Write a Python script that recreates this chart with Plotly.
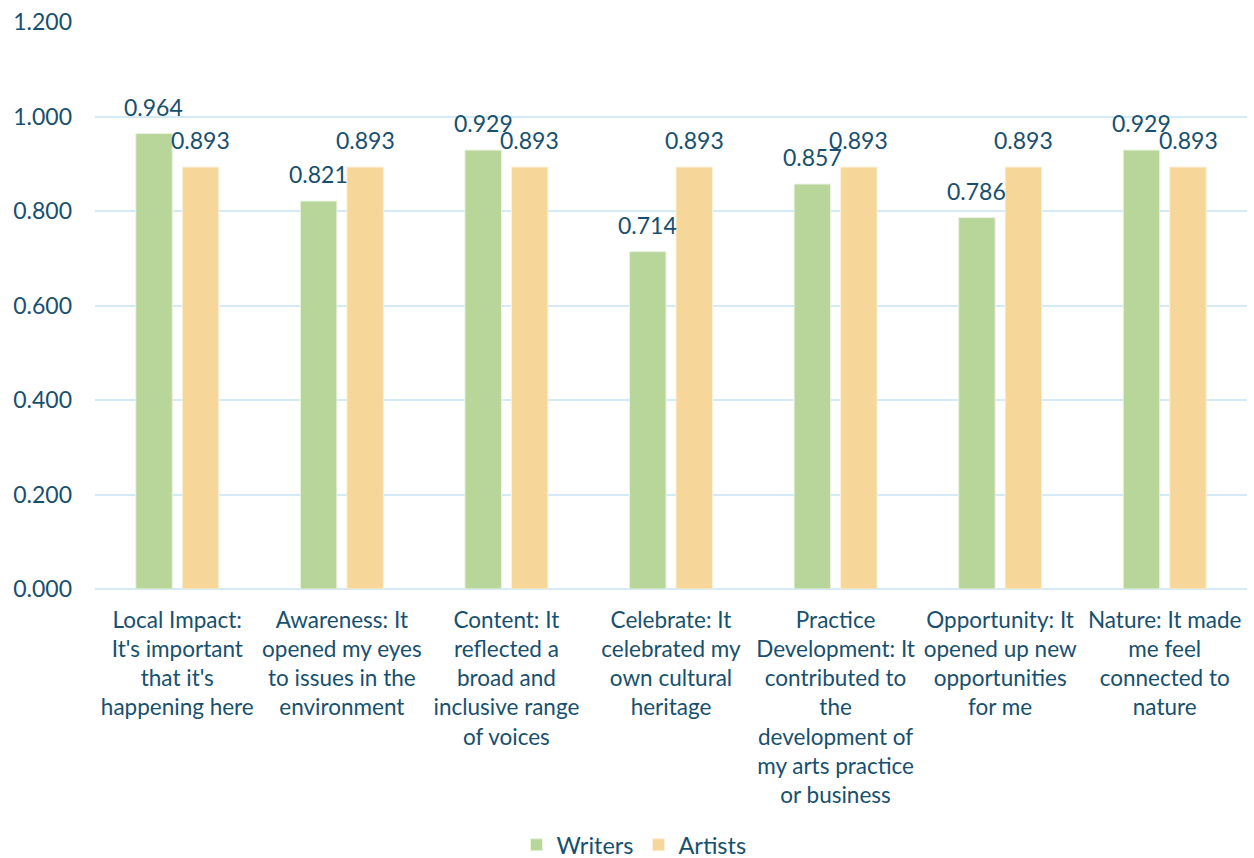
import plotly.graph_objects as go

categories = [
    "Local Impact:<br>It's important<br>that it's<br>happening here",
    "Awareness: It<br>opened my eyes<br>to issues in the<br>environment",
    "Content: It<br>reflected a<br>broad and<br>inclusive range<br>of voices",
    "Celebrate: It<br>celebrated my<br>own cultural<br>heritage",
    "Practice<br>Development: It<br>contributed to<br>the<br>development of<br>my arts practice<br>or business",
    "Opportunity: It<br>opened up new<br>opportunities<br>for me",
    "Nature: It made<br>me feel<br>connected to<br>nature",
]
writers = [0.964, 0.821, 0.929, 0.714, 0.857, 0.786, 0.929]
artists = [0.893, 0.893, 0.893, 0.893, 0.893, 0.893, 0.893]
y_ticks = [0, 0.2, 0.4, 0.6, 0.8, 1.0, 1.2]

TEXT = "#17506E"
GRID = "#D4EAF7"
FONT = "Lato, 'Open Sans', sans-serif"

fig = go.Figure()
fig.add_trace(go.Bar(
    name="Writers", x=categories, y=writers,
    marker=dict(color="#B8D59A", line=dict(color="#EAF3E0", width=1)),
))
fig.add_trace(go.Bar(
    name="Artists", x=categories, y=artists,
    marker=dict(color="#F6D799", line=dict(color="#FCF1DC", width=1)),
))

# data labels above each bar (offset to each bar of the group)
for series, shift in ((writers, -23.3), (artists, 23.3)):
    for cat, v in zip(categories, series):
        fig.add_annotation(
            x=cat, y=v, xref="x", yref="y", text=f"{v:.3f}", showarrow=False,
            xanchor="center", yanchor="bottom", xshift=shift, yshift=11,
            font=dict(size=23, color=TEXT, family=FONT),
        )

fig.update_layout(
    width=1254, height=858,
    margin=dict(l=95, r=7, t=22, b=269, autoexpand=False),
    paper_bgcolor="white", plot_bgcolor="white",
    barmode="group", bargap=0.435, bargroupgap=0.215,
    font=dict(family=FONT, size=23, color=TEXT),
    showlegend=True,
    legend=dict(orientation="h", x=0.5 + 7 / 1254, xanchor="center", xref="container",
                y=1 - 845 / 858, yanchor="middle", yref="container",
                font=dict(size=23.5, color=TEXT), itemwidth=30, traceorder="normal"),
)
fig.update_yaxes(
    range=[0, 1.2], tickvals=y_ticks, tickformat=".3f",
    showgrid=True, gridcolor=GRID, gridwidth=2,
    zeroline=True, zerolinecolor=GRID, zerolinewidth=2,
    showline=False, ticklabelstandoff=22, automargin=False,
    tickfont=dict(size=23, color=TEXT, family=FONT),
)
fig.update_xaxes(
    showgrid=False, showline=False, ticklabelstandoff=15, automargin=False,
    tickfont=dict(size=22.5, color=TEXT, family=FONT), tickangle=0,
)

fig.write_html(
    "out.html",
    config={"displayModeBar": False},
    post_script="document.body.style.margin='0';document.body.style.overflow='hidden';",
)
